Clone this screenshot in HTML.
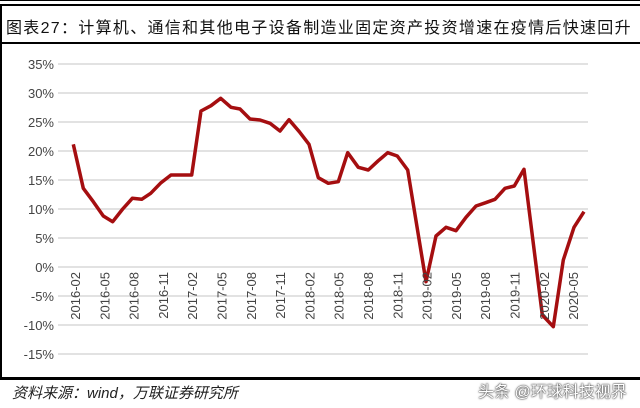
<!DOCTYPE html>
<html><head><meta charset="utf-8"><style>
body{margin:0;background:#fff;width:640px;height:408px;overflow:hidden;position:relative;font-family:"Liberation Sans","Noto Sans CJK SC",sans-serif}
.t{position:absolute;left:6px;top:14px;font-size:16px;color:#111;letter-spacing:1.3px;white-space:nowrap}
.src{position:absolute;left:12px;top:382px;font-size:15px;font-style:italic;color:#222;white-space:nowrap}
.wm{position:absolute;left:478px;top:378px;font-size:16px;color:#fff;text-shadow:0 0 2px #333,0 0 1px #000;white-space:nowrap}
</style></head><body>
<div style="position:absolute;left:0;top:0;width:640px;height:1px;background:#000"></div>
<div style="position:absolute;left:0;top:4px;width:640px;height:2px;background:#000"></div>
<div style="position:absolute;left:0;top:42px;width:640px;height:2px;background:#000"></div>
<div style="position:absolute;left:0;top:4px;width:2px;height:376px;background:#000"></div>
<div style="position:absolute;left:0;top:377px;width:640px;height:3px;background:#000"></div>
<div class="t">图表27：计算机、通信和其他电子设备制造业固定资产投资增速在疫情后快速回升</div>
<svg width="640" height="408" style="position:absolute;left:0;top:0">
<g stroke="#d9d9d9" stroke-width="1.5">
<line x1="58" x2="588" y1="64" y2="64"/><line x1="58" x2="588" y1="93" y2="93"/><line x1="58" x2="588" y1="122" y2="122"/><line x1="58" x2="588" y1="151" y2="151"/><line x1="58" x2="588" y1="180" y2="180"/><line x1="58" x2="588" y1="209" y2="209"/><line x1="58" x2="588" y1="238" y2="238"/><line x1="58" x2="588" y1="267" y2="267"/><line x1="58" x2="588" y1="296" y2="296"/><line x1="58" x2="588" y1="325" y2="325"/><line x1="58" x2="588" y1="354" y2="354"/>
</g>
<g font-size="13" fill="#444" text-anchor="end" font-family="Liberation Sans,sans-serif">
<text x="54" y="69">35%</text><text x="54" y="98">30%</text><text x="54" y="127">25%</text><text x="54" y="156">20%</text><text x="54" y="185">15%</text><text x="54" y="214">10%</text><text x="54" y="243">5%</text><text x="54" y="272">0%</text><text x="54" y="301">-5%</text><text x="54" y="330">-10%</text><text x="54" y="359">-15%</text>
</g>
<polyline fill="none" stroke="#a50e10" stroke-width="3.5" stroke-linejoin="round" points="73.3,144.3 83.3,188.3 93.3,201.7 103.3,216 112.7,221.7 122.7,209 132.3,198.3 141.7,199.3 150.7,193.3 161,182.7 171,175 181,175 191.7,175 201,111 211,105.7 220.7,98.3 231,107.3 240,109 250,119 260,120 270,123.3 280,131 289,119.7 299.3,131.7 309,144.3 318.3,177.7 328.3,183.3 338.3,181.7 347.7,152.7 358.3,167.3 368.3,170 378.3,160.7 387.7,152.7 397.3,156 407.7,170 426,281.7 436,236 446,227.3 456,230.7 466,217.3 476,206 485.7,202.7 495,199.3 505,188.3 514.3,186 524,169.3 542.3,315 553.3,326.7 563.3,260 574,227.3 584,211.7"/>
<g font-size="13" fill="#444" text-anchor="end" font-family="Liberation Sans,sans-serif">
<text transform="translate(80,272) rotate(-90)">2016-02</text>
<text transform="translate(109.3,272) rotate(-90)">2016-05</text>
<text transform="translate(138.6,272) rotate(-90)">2016-08</text>
<text transform="translate(167.9,272) rotate(-90)">2016-11</text>
<text transform="translate(197.2,272) rotate(-90)">2017-02</text>
<text transform="translate(226.5,272) rotate(-90)">2017-05</text>
<text transform="translate(255.8,272) rotate(-90)">2017-08</text>
<text transform="translate(285.1,272) rotate(-90)">2017-11</text>
<text transform="translate(314.4,272) rotate(-90)">2018-02</text>
<text transform="translate(343.7,272) rotate(-90)">2018-05</text>
<text transform="translate(373,272) rotate(-90)">2018-08</text>
<text transform="translate(402.3,272) rotate(-90)">2018-11</text>
<text transform="translate(431.6,272) rotate(-90)">2019-02</text>
<text transform="translate(460.9,272) rotate(-90)">2019-05</text>
<text transform="translate(490.2,272) rotate(-90)">2019-08</text>
<text transform="translate(519.5,272) rotate(-90)">2019-11</text>
<text transform="translate(548.8,272) rotate(-90)">2020-02</text>
<text transform="translate(578.1,272) rotate(-90)">2020-05</text>
</g>
</svg>
<div class="src">资料来源：wind，万联证券研究所</div>
<div class="wm">头条 @环球科技视界</div>
</body></html>
